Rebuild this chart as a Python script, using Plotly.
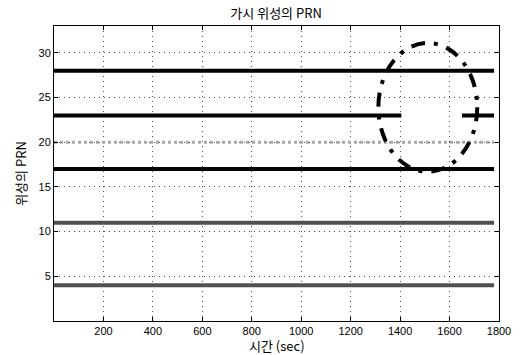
import plotly.graph_objects as go

# Data
prn_ids = [28, 23, 20, 17, 11, 4]
seg_x = {
    28: [0, 1780],
    23: [0, 1405, None, 1650, 1780],
    20: [0, 1780],
    17: [0, 1780],
    11: [0, 1780],
    4: [0, 1780],
}
line_colors = {28: "#000000", 23: "#000000", 20: "#a8a8a8", 17: "#000000", 11: "#505050", 4: "#505050"}
line_widths = {28: 4, 23: 4, 20: 3, 17: 4, 11: 4, 4: 4}
x_ticks = [200, 400, 600, 800, 1000, 1200, 1400, 1600, 1800]
y_ticks = [5, 10, 15, 20, 25, 30]
# highlighted region (dash-dot ellipse)
ellipse_x = [1312, 1712]
ellipse_y = [16.7, 31.1]

fig = go.Figure()
for p in prn_ids:
    xs = seg_x[p]
    ys = [None if v is None else p for v in xs]
    fig.add_trace(go.Scatter(x=xs, y=ys, mode="lines",
                             line=dict(color=line_colors[p], width=line_widths[p],
                                       dash="dot" if p == 20 else "solid"),
                             connectgaps=False, showlegend=False, hoverinfo="skip"))

fig.add_shape(type="circle", xref="x", yref="y",
              x0=ellipse_x[0], x1=ellipse_x[1], y0=ellipse_y[0], y1=ellipse_y[1],
              line=dict(color="black", width=4, dash="14px,9px,4px,9px"))

font_family = "Liberation Sans, DejaVu Sans, Noto Sans CJK KR, sans-serif"
kfont = "Noto Sans CJK KR, sans-serif"
axis_common = dict(showline=True, linecolor="black", linewidth=1, mirror="ticks",
                   ticks="inside", ticklen=4, tickcolor="black", automargin=False,
                   showgrid=True, gridcolor="rgba(0,0,0,0.7)", griddash="1px,4px", gridwidth=1,
                   zeroline=False, tickfont=dict(size=11, color="black", family=font_family))

fig.update_layout(
    width=521, height=355,
    margin=dict(l=54, r=22, t=26, b=34),
    paper_bgcolor="white", plot_bgcolor="white",
    title=dict(text="가시 위성의 PRN", x=0.53, xanchor="center", y=0.975, yanchor="top",
               font=dict(size=13, color="black", family=kfont)),
    xaxis=dict(range=[0, 1800], tickvals=x_ticks, ticklabelstandoff=0, **axis_common),
    yaxis=dict(range=[0, 33], tickvals=y_ticks,
               title=dict(text="위성의 PRN", standoff=8,
                          font=dict(size=13, color="black", family=kfont)),
               **axis_common),
)
fig.add_annotation(text="시간 (sec)", xref="paper", yref="paper", x=0.5, y=0,
                   xanchor="center", yanchor="middle", yshift=-24, showarrow=False,
                   font=dict(size=13, color="black", family=kfont))

fig.write_html("out.html", config={"displayModeBar": False},
               post_script="document.body.style.margin='0';")
